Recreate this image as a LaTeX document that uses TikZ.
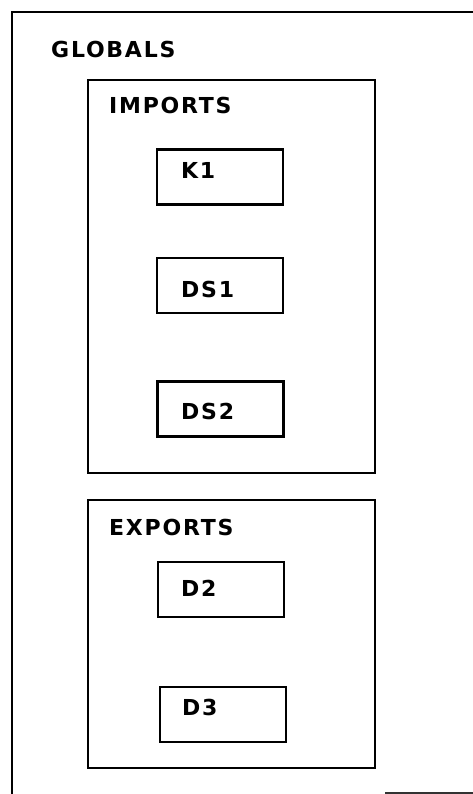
\documentclass[tikz,border=0pt]{standalone}
\usepackage{fontspec}
\newfontfamily\plotfont[LetterSpace=8]{DejaVu Sans Bold}
\begin{document}
\begin{tikzpicture}[x=1pt,y=-1pt,
  frame/.style={draw=black, line width=2.6pt, rectangle, inner sep=0pt},
  inbox/.style={draw=black, line width=2.8pt, rectangle, inner sep=0pt, minimum width=126pt, minimum height=55pt},
  lbl/.style={anchor=base west, inner sep=0pt, font=\plotfont\fontsize{22}{22}\selectfont}]
\useasboundingbox (0,0) rectangle (473,794);
% outer GLOBALS frame (open to the right and bottom)
\coordinate (gtr) at (473,12);
\coordinate (gtl) at (12,12);
\coordinate (gbl) at (12,794);
\draw[line width=2.4pt] (gtr) -- (gtl) -- (gbl);
\coordinate (bfa) at (385,793);
\coordinate (bfb) at (473,793);
\draw[line width=1.8pt, black!80] (bfa) -- (bfb);
\node[lbl] (globals) at (51,58) {GLOBALS};
% IMPORTS
\node[frame, minimum width=287pt, minimum height=393pt] (imports) at (231.5,276.5) {};
\node[lbl] (importslbl) at (109,114) {IMPORTS};
\node[inbox] (k1) at (220,177) {};
\node[lbl] (k1lbl) at (181,179) {K1};
\node[inbox] (ds1) at (220,285.5) {};
\node[lbl] (ds1lbl) at (181,297) {DS1};
\node[inbox] (ds2) at (220.5,409) {};
\node[lbl] (ds2lbl) at (181,419) {DS2};
% EXPORTS
\node[frame, minimum width=287pt, minimum height=268pt] (exports) at (231.5,634) {};
\node[lbl] (exportslbl) at (109,535) {EXPORTS};
\node[inbox] (d2) at (221,589.5) {};
\node[lbl] (d2lbl) at (181,596) {D2};
\node[inbox] (d3) at (223,714.5) {};
\node[lbl] (d3lbl) at (182,715) {D3};
\end{tikzpicture}
\end{document}
